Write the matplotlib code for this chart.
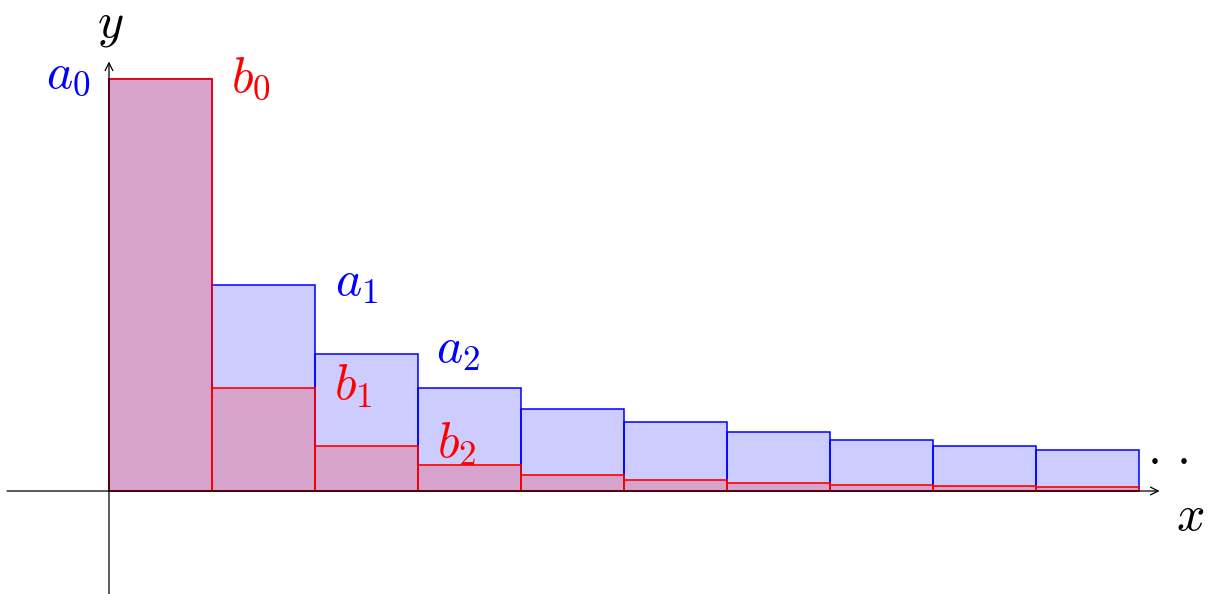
import numpy as np
import matplotlib.pyplot as plt

plt.rcParams['mathtext.fontset'] = 'cm'

# bar heights (a0 = 4 units)
n = [0, 1, 2, 3, 4, 5, 6, 7, 8, 9]
a = [4, 2, 1.33, 1, 0.8, 0.67, 0.57, 0.5, 0.44, 0.4]
b = [4, 1, 0.44, 0.25, 0.16, 0.11, 0.08, 0.06, 0.05, 0.04]

px = 103.0  # pixels per unit
fig = plt.figure(figsize=(12.09, 5.94), dpi=100)
ax = fig.add_axes([0, 0, 1, 1])
ax.set_xlim(-109 / px, 1100 / px)
ax.set_ylim(-103 / px, 491 / px)
ax.axis('off')

ax.bar(n, a, width=1, align='edge', color=(0, 0, 1, 0.2),
       edgecolor='blue', linewidth=1.1, zorder=2)
ax.bar(n, b, width=1, align='edge', color=(1, 0, 0, 0.2),
       edgecolor='red', linewidth=1.2, zorder=3)

# axes with arrows
arr = dict(arrowstyle='->', lw=0.9, color='black', shrinkA=0, shrinkB=0,
           mutation_scale=14)
ax.annotate('', xy=(10.2, 0), xytext=(-0.99, 0), arrowprops=arr, zorder=4)
ax.annotate('', xy=(0, 4.17), xytext=(0, -1.0), arrowprops=arr, zorder=4)

fs = 36
dy = 0.04
ax.text(0.01, 4.52, '$y$', fontsize=fs, ha='center', va='center')
ax.text(10.50, -0.28 + dy, '$x$', fontsize=fs, ha='center', va='center')
ax.text(10.08, 0.32, r'$\cdot\,\cdot\,\cdot$', fontsize=fs, ha='left', va='center')

ax.text(-0.40, 4.01 + dy, '$a_0$', fontsize=fs, color='blue', ha='center', va='center')
ax.text(2.40, 1.99 + dy, '$a_1$', fontsize=fs, color='blue', ha='center', va='center')
ax.text(3.39, 1.34 + dy, '$a_2$', fontsize=fs, color='blue', ha='center', va='center')
ax.text(1.38, 3.97 + dy, '$b_0$', fontsize=fs, color='red', ha='center', va='center')
ax.text(2.37, 0.98 + dy, '$b_1$', fontsize=fs, color='red', ha='center', va='center')
ax.text(3.37, 0.42 + dy, '$b_2$', fontsize=fs, color='red', ha='center', va='center', zorder=5)

fig.savefig('out.png', dpi=100)
